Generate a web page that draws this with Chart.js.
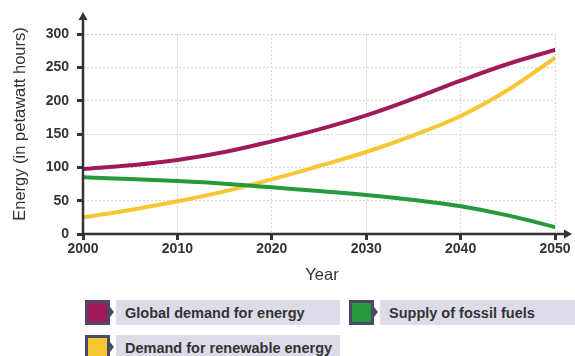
<!DOCTYPE html>
<html><head><meta charset="utf-8">
<script src="https://cdn.jsdelivr.net/npm/chart.js@4"></script>
<style>
html,body{margin:0;padding:0;background:#fff;width:575px;height:356px;overflow:hidden;font-family:"Liberation Sans",Arial,sans-serif;}
#wrap{position:absolute;left:0;top:0;width:575px;height:290px;}
.leg{position:absolute;height:25px;}
.sw{position:absolute;left:0;top:0;width:25px;height:25px;background:#4a4a68;}
.sw i{position:absolute;left:3px;top:3px;width:19px;height:19px;display:block;}
.sw b{position:absolute;left:25px;top:7px;width:0;height:0;border-top:5px solid transparent;border-bottom:5px solid transparent;border-left:4px solid #4a4a68;}
.lb{position:absolute;left:31px;top:0;height:25px;background:#dcdce8;color:#333;font-weight:bold;font-size:14.5px;line-height:26px;padding-left:9px;box-sizing:border-box;white-space:nowrap;}
</style></head>
<body>
<div id="wrap"><canvas id="c" width="575" height="290"></canvas></div>
<div id="legend"></div>
<script>
const years = [2000,2005,2010,2015,2020,2025,2030,2035,2040,2045,2050];
const globalDemand = [97.5,103,111,123,139,157,178,203,230,255,276];
const fossilSupply = [85,82.5,79.5,75.5,70,64.5,58.5,51,41.5,28,10.5];
const renewableDemand = [25,36,49,64,82,102,123,148,177,216,264];
const xTicks = [2000,2010,2020,2030,2040,2050];
const yTicks = [0,50,100,150,200,250,300];
const seriesNames = ["Global demand for energy","Supply of fossil fuels","Demand for renewable energy"];
const colors = ["#a0195b","#26993f","#f6c633"];

const legendPos = [[85,300,340],[349,300,575],[85,335,340]];
const legendEl = document.getElementById('legend');
seriesNames.forEach((n,i)=>{
  const [x,y,r]=legendPos[i];
  const d=document.createElement('div');d.className='leg';d.style.left=x+'px';d.style.top=y+'px';d.style.width=(r-x)+'px';
  d.innerHTML='<div class="sw"><i style="background:'+colors[i]+'"></i><b></b></div><div class="lb" style="width:'+(r-x-31)+'px">'+n+'</div>';
  legendEl.appendChild(d);
});

const mk=(arr)=>years.map((y,i)=>({x:y,y:arr[i]}));
const axesPlugin={
  id:'axesPlugin',
  afterDraw(chart){
    const ctx=chart.ctx, a=chart.chartArea;
    const x0=chart.scales.x.getPixelForValue(2000), y0=chart.scales.y.getPixelForValue(0);
    ctx.save();
    ctx.strokeStyle='#333';ctx.fillStyle='#333';ctx.lineWidth=2.5;
    ctx.beginPath();ctx.moveTo(x0,y0+1);ctx.lineTo(x0,18);ctx.stroke();
    ctx.beginPath();ctx.moveTo(x0-4.5,20);ctx.lineTo(x0,12);ctx.lineTo(x0+4.5,20);ctx.closePath();ctx.fill();
    ctx.beginPath();ctx.moveTo(x0-1,y0);ctx.lineTo(566,y0);ctx.stroke();
    ctx.beginPath();ctx.moveTo(564,y0-4.5);ctx.lineTo(572,y0);ctx.lineTo(564,y0+4.5);ctx.closePath();ctx.fill();
    ctx.font='16.5px "Liberation Sans", Arial, sans-serif';ctx.fillStyle='#333';
    ctx.textAlign='center';ctx.textBaseline='middle';
    ctx.fillText('Year',(a.left+a.right)/2+3,275);
    ctx.translate(20,124);ctx.rotate(-Math.PI/2);
    ctx.fillText('Energy (in petawatt hours)',0,0);
    ctx.restore();
  }
};

new Chart(document.getElementById('c'),{
  type:'line',
  data:{datasets:[
    {label:seriesNames[0],data:mk(globalDemand),borderColor:colors[0]},
    {label:seriesNames[1],data:mk(fossilSupply),borderColor:colors[1]},
    {label:seriesNames[2],data:mk(renewableDemand),borderColor:colors[2]}
  ].map(d=>Object.assign(d,{borderWidth:4,pointRadius:0,fill:false,tension:0.4,borderCapStyle:'round'}))},
  options:{
    responsive:false,animation:false,
    layout:{padding:{top:34,right:20,left:0,bottom:0}},
    plugins:{legend:{display:false},tooltip:{enabled:false}},
    scales:{
      x:{type:'linear',min:2000,max:2050,
        afterBuildTicks(s){s.ticks=xTicks.map(v=>({value:v}));},
        afterFit(s){s.height=56;},
        grid:{color:'#d4d4e8',lineWidth:1,tickColor:'#333',tickLength:6,tickWidth:3},
        border:{display:false,dash:[2,2]},
        ticks:{color:'#333',padding:1,font:{family:'"Liberation Sans", Arial, sans-serif',size:14,weight:'bold'},callback:v=>String(v),maxRotation:0}
      },
      y:{min:0,max:300,
        afterBuildTicks(s){s.ticks=yTicks.map(v=>({value:v}));},
        afterFit(s){s.width=83;},
        grid:{color:'#d4d4e8',lineWidth:1,tickColor:'#333',tickLength:6,tickWidth:3},
        border:{display:false,dash:[2,2]},
        ticks:{color:'#333',padding:8,font:{family:'"Liberation Sans", Arial, sans-serif',size:14,weight:'bold'}}
      }
    }
  },
  plugins:[axesPlugin]
});
</script>
</body></html>
